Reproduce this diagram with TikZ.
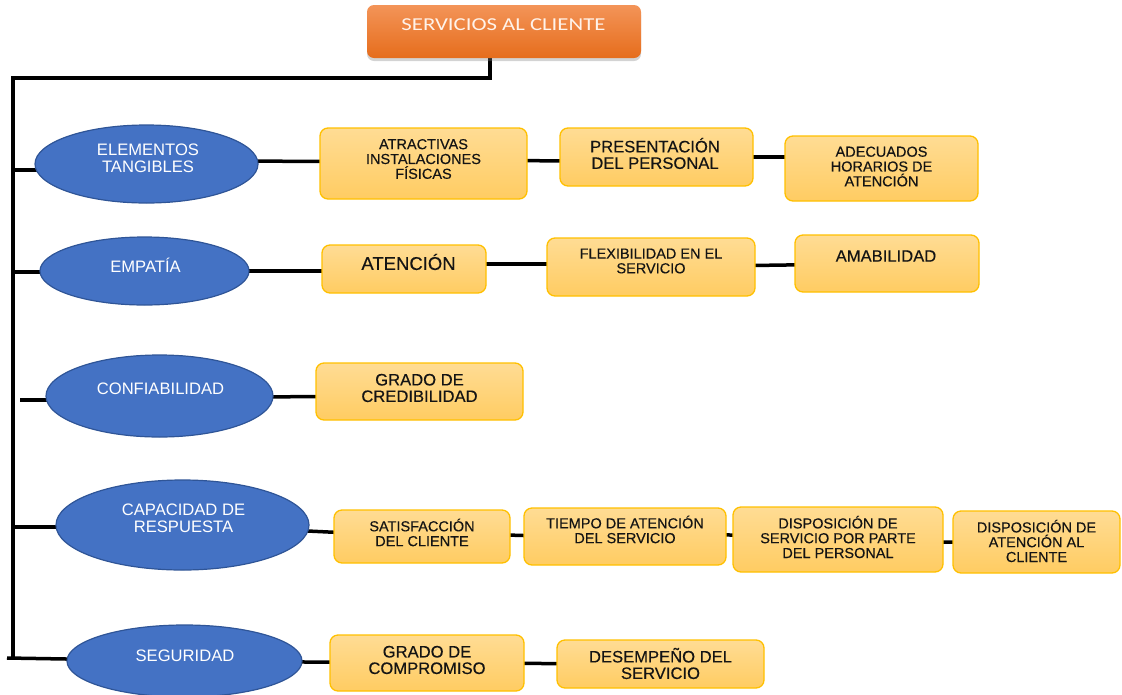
\documentclass[tikz,border=0pt]{standalone}
\usepackage{fontspec}
\setmainfont{Liberation Sans}
\newfontfamily\inkfont{Liberation Sans}[FakeBold=0.3]
\newfontfamily\titlefont{Carlito}[FakeStretch=1.25]
\usetikzlibrary{shapes.geometric,backgrounds,shadows}

\definecolor{ovalfill}{HTML}{4472C4}
\definecolor{ovaledge}{HTML}{2F5597}
\definecolor{cardtop}{HTML}{FFDC94}
\definecolor{cardbottom}{HTML}{FFCC62}
\definecolor{cardedge}{HTML}{FFC000}
\definecolor{cardink}{HTML}{141414}
\definecolor{headtop}{HTML}{F39458}
\definecolor{headbottom}{HTML}{E66D1C}
\definecolor{headink}{HTML}{FFF3EA}

\tikzset{
  oval/.style={ellipse, draw=ovaledge, line width=1.2pt, fill=ovalfill, inner sep=0pt},
  card/.style={rectangle, rounded corners=8pt, draw=cardedge, line width=1.3pt,
               top color=cardtop, bottom color=cardbottom, inner sep=0pt},
  cardtxt/.style={align=center, text=cardink, inner sep=0pt, font=\inkfont\fontsize{14.5}{14.8}\selectfont},
  midtxt/.style={align=center, text=cardink, inner sep=0pt, font=\inkfont\fontsize{16.6}{16.5}\selectfont},
  bigtxt/.style={align=center, text=cardink, inner sep=0pt, font=\inkfont\fontsize{18.5}{18}\selectfont},
  ovaltxt/.style={align=center, text=white, inner sep=0pt, font=\fontsize{16.6}{17}\selectfont},
  link/.style={line width=3.5pt, black},
}

\begin{document}
\begin{tikzpicture}[x=1pt, y=-1pt]
\useasboundingbox (0,0) rectangle (1122,694);

% heading
\node[rectangle, rounded corners=7pt, top color=headtop, bottom color=headbottom,
      minimum width=274pt, minimum height=53pt, inner sep=0pt,
      drop shadow={shadow xshift=0pt, shadow yshift=-3pt, opacity=0.35}] (head) at (504,31.5) {};
\node[text=headink, inner sep=0pt, font=\titlefont\fontsize{18.2}{18}\selectfont] (headtxt) at (503.5,25) {SERVICIOS AL CLIENTE};

% dimensions
\node[oval, minimum width=223pt, minimum height=78pt] (e1) at (146.5,164) {};
\node[oval, minimum width=209pt, minimum height=68pt] (e2) at (144.5,271) {};
\node[oval, minimum width=227pt, minimum height=82pt] (e3) at (159.5,396) {};
\node[oval, minimum width=253pt, minimum height=90pt] (e4) at (182.5,525) {};
\node[oval, minimum width=235pt, minimum height=72pt] (e5) at (184.5,661) {};

\node[ovaltxt] (e1t) at (148,158.5) {ELEMENTOS\\TANGIBLES};
\node[ovaltxt] (e2t) at (145.5,265) {EMPATÍA};
\node[ovaltxt] (e3t) at (160.5,389) {CONFIABILIDAD};
\node[ovaltxt] (e4t) at (183.5,518) {CAPACIDAD DE\\RESPUESTA};
\node[ovaltxt] (e5t) at (185,656) {SEGURIDAD};

% attributes
\node[card, minimum width=207pt, minimum height=71pt] (b1) at (423.5,163.5) {};
\node[card, minimum width=193pt, minimum height=58pt] (b2) at (656.5,157) {};
\node[card, minimum width=193pt, minimum height=65pt] (b3) at (881.5,168.5) {};
\node[card, minimum width=164pt, minimum height=48pt] (b4) at (404,269) {};
\node[card, minimum width=208pt, minimum height=58pt] (b5) at (651,267) {};
\node[card, minimum width=184pt, minimum height=57pt] (b6) at (887,263.5) {};
\node[card, minimum width=207pt, minimum height=57pt] (b7) at (419.5,391.5) {};
\node[card, minimum width=176pt, minimum height=53pt] (b8) at (422,536.5) {};
\node[card, minimum width=202pt, minimum height=57pt] (b9) at (625,536.5) {};
\node[card, minimum width=210pt, minimum height=65pt] (b10) at (838,539.5) {};
\node[card, minimum width=167pt, minimum height=62pt] (b11) at (1036.5,542) {};
\node[card, minimum width=194pt, minimum height=56pt] (b12) at (427,663) {};
\node[card, minimum width=207pt, minimum height=48pt] (b13) at (660.5,664) {};

\node[cardtxt] (b1t) at (423.5,159) {ATRACTIVAS\\INSTALACIONES\\FÍSICAS};
\node[midtxt] (b2t) at (655,153.5) {PRESENTACIÓN\\DEL PERSONAL};
\node[cardtxt] (b3t) at (881.5,166.5) {ADECUADOS\\HORARIOS DE\\ATENCIÓN};
\node[bigtxt] (b4t) at (408.5,262) {ATENCIÓN};
\node[cardtxt] (b5t) at (651,261) {FLEXIBILIDAD EN EL\\SERVICIO};
\node[midtxt] (b6t) at (886,256) {AMABILIDAD};
\node[midtxt] (b7t) at (419.5,388) {GRADO DE\\CREDIBILIDAD};
\node[cardtxt] (b8t) at (422,532.5) {SATISFACCIÓN\\DEL CLIENTE};
\node[cardtxt] (b9t) at (625,529.5) {TIEMPO DE ATENCIÓN\\DEL SERVICIO};
\node[cardtxt] (b10t) at (838,537) {DISPOSICIÓN DE\\SERVICIO POR PARTE\\DEL PERSONAL};
\node[cardtxt] (b11t) at (1036.5,541) {DISPOSICIÓN DE\\ATENCIÓN AL\\CLIENTE};
\node[midtxt] (b12t) at (427,660) {GRADO DE\\COMPROMISO};
\node[midtxt] (b13t) at (660.5,663.5) {DESEMPEÑO DEL\\SERVICIO};

% trunk joints
\coordinate (corner) at (13,78);
\coordinate (foot) at (13,660);
\coordinate (j1) at (13,170);
\coordinate (j2) at (13,272);
\coordinate (j3) at (20,400);
\coordinate (j4) at (13,527);
\coordinate (j5) at (7,658);

\begin{pgfonlayer}{background}
  % trunk
  \draw[link] ([xshift=-14pt]head.south) |- (corner) -- (foot);
  % branches to the dimensions
  \draw[link] (j1) -- (j1 -| e1.center);
  \draw[link] (j2) -- (j2 -| e2.center);
  \draw[link] (j3) -- (j3 -| e3.center);
  \draw[link] (j4) -- (j4 -| e4.center);
  \draw[link] (j5) -- (e5.center);
  % row 1
  \draw[link] ([yshift=3pt]e1.center) -- ([yshift=2pt]b1.center);
  \draw[link] ([yshift=4pt]b1.center) -- ([yshift=-5pt]b2.center);
  \draw[link] (b2.center) -- (b2.center -| b3.center);
  % row 2
  \draw[link] (e2.center) -- (e2.center -| b4.center);
  \draw[link] ([yshift=5pt]b4.center) -- ([yshift=3pt]b5.center);
  \draw[link] (b5.center) -- (b6.center);
  % row 3
  \draw[link] ([yshift=-2pt]e3.center) -- ([yshift=-4pt]b7.center);
  % row 4
  \draw[link] (e4.center) -- (b8.center);
  \draw[link] ([yshift=4pt]b8.center) -- ([yshift=-2pt]b9.center);
  \draw[link] ([yshift=2pt]b9.center) -- ([yshift=4pt]b10.center);
  \draw[link] ([yshift=-4pt]b10.center) -- ([yshift=1pt]b11.center);
  % row 5
  \draw[link] (e5.center) -- (b12.center);
  \draw[link] (b12.center) -- (b13.center);
\end{pgfonlayer}
\end{tikzpicture}
\end{document}
